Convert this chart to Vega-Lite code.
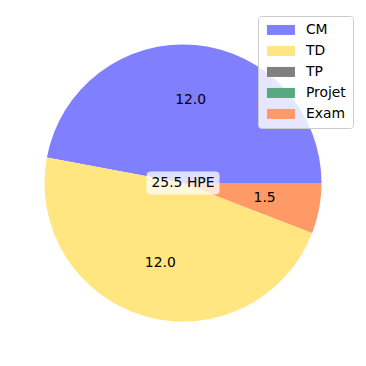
{
  "$schema": "https://vega.github.io/schema/vega-lite/v6.json",
  "width": 366,
  "height": 366,
  "autosize": {"type": "fit", "contains": "padding"},
  "padding": 0,
  "background": "white",
  "config": {
    "view": {"stroke": null},
    "font": "DejaVu Sans",
    "legend": {
      "orient": "none",
      "legendX": 258,
      "legendY": 16,
      "fillColor": "rgba(255,255,255,0.8)",
      "strokeColor": "#cccccc",
      "cornerRadius": 3,
      "padding": 7,
      "symbolType": "M-1,-1L4.6,-1L4.6,1L-1,1Z",
      "symbolSize": 100,
      "symbolStrokeWidth": 0,
      "symbolOpacity": 1,
      "labelFontSize": 13.9,
      "labelFont": "DejaVu Sans",
      "labelColor": "black",
      "labelOffset": 27,
      "rowPadding": 6
    }
  },
  "layer": [
    {
      "data": {
        "values": [
          {"type": "CM", "value": 12.0, "rank": 1},
          {"type": "TD", "value": 12.0, "rank": 2},
          {"type": "TP", "value": 0.0, "rank": 3},
          {"type": "Projet", "value": 0.0, "rank": 4},
          {"type": "Exam", "value": 1.5, "rank": 5}
        ]
      },
      "layer": [
        {
          "mark": {"type": "arc", "outerRadius": 138.5, "strokeWidth": 0},
          "encoding": {
            "theta": {"field": "value", "type": "quantitative", "stack": true, "scale": {"range": [1.5708, -4.7124]}},
            "order": {"field": "rank", "type": "quantitative", "sort": "ascending"},
            "color": {
              "field": "type",
              "type": "nominal",
              "scale": {
                "domain": ["CM", "TD", "TP", "Projet", "Exam"],
                "range": ["#8080ff", "#ffe680", "#808080", "#57aa80", "#ff9966"]
              },
              "legend": {"title": null}
            }
          }
        },
        {
          "transform": [{"filter": "datum.value > 0"}],
          "mark": {"type": "text", "radius": 83, "fontSize": 13.9, "font": "DejaVu Sans", "color": "black", "baseline": "middle", "align": "center"},
          "encoding": {
            "theta": {"field": "value", "type": "quantitative", "stack": true},
            "order": {"field": "rank", "type": "quantitative", "sort": "ascending"},
            "text": {"field": "value", "type": "quantitative", "format": ".1f"}
          }
        }
      ]
    },
    {
      "data": {"values": [{"label": "25.5 HPE"}]},
      "layer": [
        {
          "mark": {
            "type": "point",
            "filled": true,
            "shape": "M-0.917,-0.306L0.917,-0.306Q1,-0.306 1,-0.222L1,0.222Q1,0.306 0.917,0.306L-0.917,0.306Q-1,0.306 -1,0.222L-1,-0.222Q-1,-0.306 -0.917,-0.306Z",
            "size": 5184,
            "color": "white",
            "opacity": 0.75,
            "stroke": "white",
            "strokeWidth": 1
          },
          "encoding": {}
        },
        {
          "mark": {"type": "text", "fontSize": 13.9, "font": "DejaVu Sans", "color": "black", "baseline": "middle", "align": "center"},
          "encoding": {"text": {"field": "label", "type": "nominal"}}
        }
      ]
    }
  ]
}
